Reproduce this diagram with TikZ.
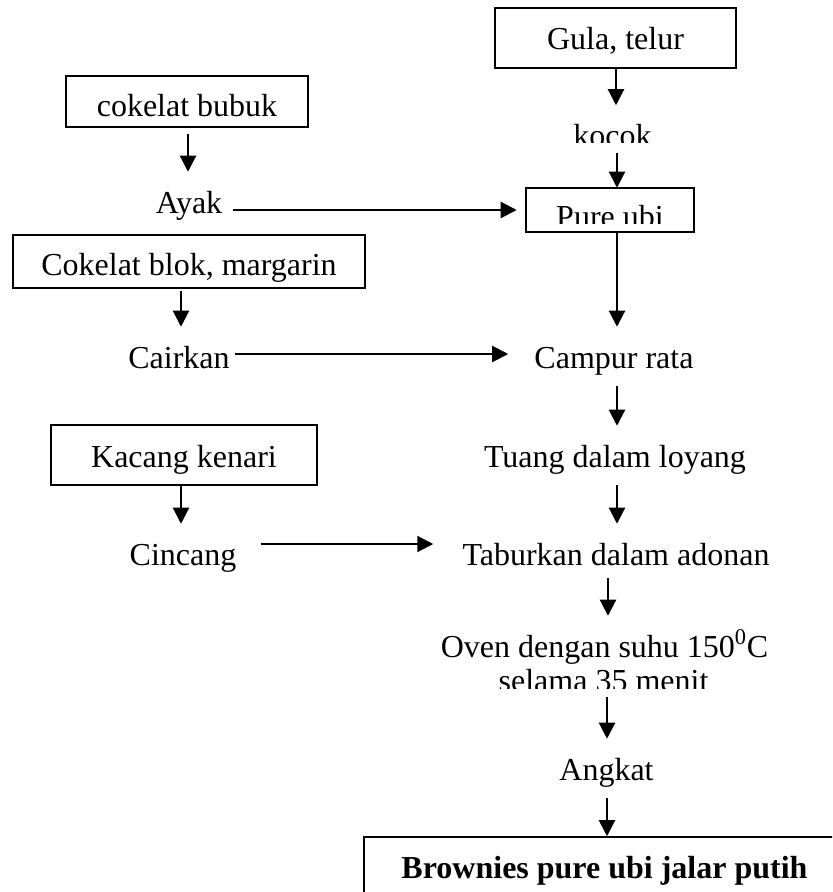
\documentclass[tikz,border=0pt]{standalone}
\usepackage{fontspec}
\setmainfont{Liberation Serif}
\usetikzlibrary{arrows.meta}
\begin{document}
\begin{tikzpicture}[x=0.75pt,y=-0.75pt,
  txt/.style={anchor=base,inner sep=0pt,text height=30.75pt,text depth=13.5pt,font=\fontsize{24pt}{28pt}\selectfont},
  boxed/.style={txt,draw,line width=1.2pt},
  arr/.style={line width=1.6pt,-{Triangle[length=12pt,width=12pt]}}]
\clip (0,0) rectangle (832,892);
% columns
\coordinate (cG) at (616,0);
\coordinate (cR) at (617,0);
\coordinate (cT) at (608,0);
\coordinate (cO) at (607,0);
\coordinate (cL) at (181,0);
\coordinate (cB) at (188,0);
% left column
\node[boxed,minimum width=181.5pt,text depth=7.5pt] (bubuk) at (187,117) {cokelat bubuk};
\node[txt] (ayak) at (189,213) {Ayak};
\node[boxed,minimum width=264pt,text height=30pt,text depth=9.75pt] (blok) at (189,275) {Cokelat blok, margarin};
\node[txt] (cair) at (179,368) {Cairkan};
\node[boxed,minimum width=199.5pt,text height=31.5pt] (kacang) at (184,467) {Kacang kenari};
\node[txt] (cincang) at (183,565) {Cincang};
% right column
\node[boxed,minimum width=180.75pt,text height=31.5pt] (gula) at (615.5,50) {Gula, telur};
\begin{scope}
\clip (540,95) rectangle (700,142);
\node[txt,text depth=4.5pt] (kocok) at (612.5,146.5) {kocok};
\end{scope}
\begin{scope}
\clip (520,180) rectangle (700,223);
\node[txt,minimum width=126pt,text height=29.25pt,text depth=3.75pt] (pure) at (610,227) {Pure ubi};
\end{scope}
\draw[line width=1.2pt] (pure.north west) rectangle (pure.south east);
\node[txt] (campur) at (614,368) {Campur rata};
\node[txt] (tuang) at (615,467) {Tuang dalam loyang};
\node[txt,text depth=9.75pt] (tabur) at (616,565) {Taburkan dalam adonan};
\node[txt] (oven) at (604.5,657) {Oven dengan suhu 150\textsuperscript{0}C};
\begin{scope}
\clip (470,665) rectangle (740,688);
\node[txt,text height=24pt,text depth=4.5pt] (selama) at (603.5,691) {selama 35 menit};
\end{scope}
\node[txt] (angkat) at (606.5,780) {Angkat};
\node[boxed,minimum width=360.75pt,text height=30.75pt,text depth=30pt,font=\fontsize{24pt}{28pt}\selectfont\bfseries] (brown) at (604.5,878) {Brownies pure ubi jalar putih};
% vertical arrows
\draw[arr] (gula.south -| cG) -- (kocok.north -| cG);
\draw[arr] (kocok.south -| cR) -- (pure.north -| cR);
\draw[arr,shorten <=4.5pt] (bubuk.south -| cB) -- (ayak.north -| cB);
\draw[arr,shorten <=1.5pt] (blok.south -| cL) -- (cair.north -| cL);
\draw[arr] (kacang.south -| cL) -- (cincang.north -| cL);
\draw[arr] (pure.south -| cR) -- (campur.north -| cR);
\draw[arr] (campur.south -| cR) -- (tuang.north -| cR);
\draw[arr] (tuang.south -| cR) -- (tabur.north -| cR);
\draw[arr] (tabur.south -| cT) -- (oven.north -| cT);
\draw[arr] (selama.south -| cO) -- (angkat.north -| cO);
\draw[arr] (angkat.south -| cO) -- (brown.north -| cO);
% horizontal arrows
\draw[arr,shorten <=8.25pt,shorten >=6.75pt] ([yshift=2.25pt]ayak.base east) -- ([yshift=2.25pt]ayak.base east -| pure.west);
\draw[arr,shorten <=3.75pt,shorten >=19.5pt] ([yshift=10.5pt]cair.base east) -- ([yshift=10.5pt]cair.base east -| campur.west);
\draw[arr,shorten <=18pt,shorten >=21.75pt] ([yshift=15.75pt]cincang.base east) -- ([yshift=15.75pt]cincang.base east -| tabur.west);
\end{tikzpicture}
\end{document}
